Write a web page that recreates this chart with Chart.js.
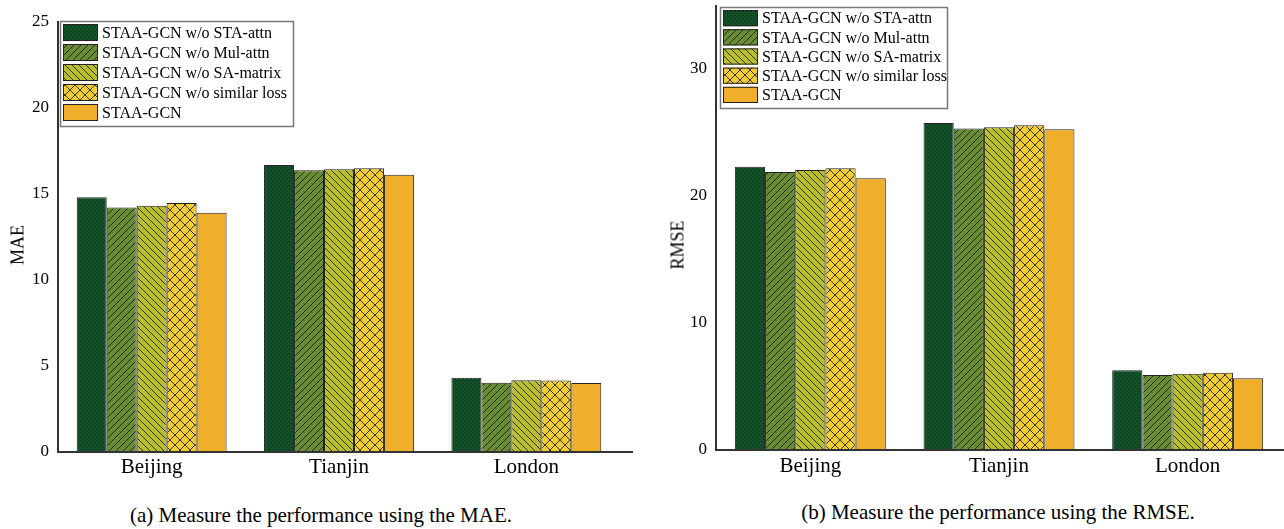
<!DOCTYPE html>
<html>
<head>
<meta charset="utf-8">
<script src="https://cdn.jsdelivr.net/npm/chart.js@4.4.0/dist/chart.umd.min.js"></script>
<style>
  body { margin: 0; background: #fff; width: 1284px; height: 529px; position: relative; overflow: hidden; font-family: "Liberation Serif", "Times New Roman", serif; }
  canvas { position: absolute; top: 0; }
  #maeChart { left: 0; }
  #rmseChart { left: 640px; }
  .ytitle, .caption { position: absolute; transform: translate(-50%, -50%); white-space: nowrap; color: #000; }
  .ytitle { font-size: 18px; transform: translate(-50%, -50%) rotate(-90deg); }
  .caption { font-size: 21px; }
</style>
</head>
<body>
<canvas id="maeChart" width="640" height="490"></canvas>
<canvas id="rmseChart" width="644" height="490"></canvas>
<div class="ytitle" style="left:18px; top:245px;">MAE</div>
<div class="ytitle" style="left:678px; top:245px;">RMSE</div>
<div class="caption" style="left:321px; top:515px;">(a) Measure the performance using the MAE.</div>
<div class="caption" style="left:998px; top:512px;">(b) Measure the performance using the RMSE.</div>
<script>
// data
const categories = ['Beijing', 'Tianjin', 'London'];
const seriesNames = ['STAA-GCN w/o STA-attn', 'STAA-GCN w/o Mul-attn', 'STAA-GCN w/o SA-matrix', 'STAA-GCN w/o similar loss', 'STAA-GCN'];

const maeNoStaAttn = [14.81, 16.69, 4.32];
const maeNoMulAttn = [14.22, 16.38, 4.03];
const maeNoSaMatrix = [14.31, 16.44, 4.17];
const maeNoSimLoss = [14.48, 16.50, 4.16];
const maeFull = [13.91, 16.12, 4.01];

const rmseNoStaAttn = [22.31, 25.75, 6.27];
const rmseNoMulAttn = [21.89, 25.32, 5.90];
const rmseNoSaMatrix = [22.05, 25.41, 6.01];
const rmseNoSimLoss = [22.18, 25.57, 6.09];
const rmseFull = [21.39, 25.26, 5.65];

const maeTicks = [0, 5, 10, 15, 20, 25];
const rmseTicks = [0, 10, 20, 30];
const rmseMax = 35;

const FONT = '"Liberation Serif", "Times New Roman", serif';

// fill patterns for the bars
function makePattern(bg, draw, size) {
    const c = document.createElement('canvas');
    c.width = size; c.height = size;
    const g = c.getContext('2d');
    g.fillStyle = bg;
    g.fillRect(0, 0, size, size);
    g.strokeStyle = 'rgba(20,30,10,0.85)';
    g.fillStyle = 'rgba(5,35,15,0.9)';
    g.lineWidth = 1;
    draw(g, size);
    return g.createPattern(c, 'repeat');
}

function buildFills(ctx) {
    const dots = makePattern('rgb(20,80,42)', (g) => {
        g.fillRect(1, 1, 1, 1);
        g.fillRect(3, 3, 1, 1);
    }, 4);
    const fwd = makePattern('rgb(106,140,50)', (g, s) => {
        g.beginPath();
        g.moveTo(0, s); g.lineTo(s, 0);
        g.moveTo(-1, 1); g.lineTo(1, -1);
        g.moveTo(s - 1, s + 1); g.lineTo(s + 1, s - 1);
        g.stroke();
    }, 7);
    const back = makePattern('rgb(185,190,42)', (g, s) => {
        g.beginPath();
        g.moveTo(0, 0); g.lineTo(s, s);
        g.moveTo(s - 1, -1); g.lineTo(s + 1, 1);
        g.moveTo(-1, s - 1); g.lineTo(1, s + 1);
        g.stroke();
    }, 7);
    const cross = makePattern('rgb(242,204,50)', (g, s) => {
        g.beginPath();
        g.moveTo(0, 0); g.lineTo(s, s);
        g.moveTo(0, s); g.lineTo(s, 0);
        g.stroke();
    }, 10);
    return [dots, fwd, back, cross, 'rgb(240,175,42)'];
}

// boxed legend drawn in the upper left of the plot
const legendBox = {
    id: 'legendBox',
    afterDraw(chart, args, opts) {
        const ctx = chart.ctx;
        const x = opts.x, y = opts.y, w = opts.w, h = opts.h;
        ctx.save();
        ctx.fillStyle = '#fff';
        ctx.fillRect(x, y, w, h);
        ctx.strokeStyle = '#777';
        ctx.lineWidth = 1.5;
        ctx.strokeRect(x + 0.5, y + 0.5, w, h);
        const rowH = (h - 5) / chart.data.datasets.length;
        chart.data.datasets.forEach((ds, i) => {
            const by = y + 3 + i * rowH;
            ctx.fillStyle = ds.backgroundColor;
            ctx.fillRect(x + 3, by, 35, rowH - 3);
            ctx.strokeStyle = '#222';
            ctx.lineWidth = 1;
            ctx.strokeRect(x + 3.5, by + 0.5, 34, rowH - 4);
            ctx.fillStyle = '#000';
            ctx.font = '16px ' + FONT;
            ctx.textBaseline = 'middle';
            ctx.fillText(ds.label, x + 42, by + (rowH - 3) / 2 + 1);
        });
        ctx.restore();
    }
};

// left and bottom axis lines
const axisLines = {
    id: 'axisLines',
    afterDatasetsDraw(chart, args, opts) {
        const { ctx, chartArea } = chart;
        ctx.save();
        ctx.strokeStyle = '#333';
        ctx.lineWidth = 2;
        ctx.beginPath();
        ctx.moveTo(chartArea.left, opts.top);
        ctx.lineTo(chartArea.left, chartArea.bottom);
        ctx.lineTo(chartArea.right + opts.extend, chartArea.bottom);
        ctx.stroke();
        ctx.restore();
    }
};

function makeChart(canvasId, seriesData, tickList, yMax, cfg) {
    const canvas = document.getElementById(canvasId);
    const fills = buildFills(canvas.getContext('2d'));
    return new Chart(canvas, {
        type: 'bar',
        data: {
            labels: categories,
            datasets: seriesData.map((vals, i) => ({
                label: seriesNames[i],
                data: vals,
                backgroundColor: fills[i],
                borderColor: '#222',
                borderWidth: 1,
                borderSkipped: 'bottom',
                barPercentage: 1,
                categoryPercentage: 0.8
            }))
        },
        options: {
            responsive: false,
            animation: false,
            devicePixelRatio: 1,
            layout: { padding: { left: 0, right: cfg.right, top: cfg.top, bottom: 0 } },
            plugins: {
                legend: { display: false },
                tooltip: { enabled: false },
                legendBox: cfg.legend,
                axisLines: { top: cfg.axisTop, extend: cfg.extend }
            },
            scales: {
                x: {
                    grid: { display: false, drawTicks: false },
                    border: { display: false },
                    ticks: { color: '#000', font: { family: FONT, size: 21 }, padding: cfg.xPad },
                    afterFit: (s) => { s.height = cfg.xHeight; s.paddingLeft = 0; s.paddingRight = 0; }
                },
                y: {
                    min: 0,
                    max: yMax,
                    grid: { display: false, drawTicks: false },
                    border: { display: false },
                    ticks: { color: '#000', font: { family: FONT, size: 17 }, padding: 9 },
                    afterBuildTicks: (s) => { s.ticks = tickList.map(v => ({ value: v })); },
                    afterFit: (s) => { s.width = cfg.yWidth; s.paddingTop = 0; s.paddingBottom = 0; }
                }
            }
        },
        plugins: [legendBox, axisLines]
    });
}

makeChart('maeChart',
    [maeNoStaAttn, maeNoMulAttn, maeNoSaMatrix, maeNoSimLoss, maeFull],
    maeTicks, maeTicks[maeTicks.length - 1],
    { right: 20, top: 22, yWidth: 58, xHeight: 38, xPad: 3, axisTop: 21, extend: 13,
      legend: { x: 60, y: 21, w: 233, h: 105 } });

makeChart('rmseChart',
    [rmseNoStaAttn, rmseNoMulAttn, rmseNoSaMatrix, rmseNoSimLoss, rmseFull],
    rmseTicks, rmseMax,
    { right: 2, top: 5.5, yWidth: 76, xHeight: 40, xPad: 4, axisTop: 5, extend: 2,
      legend: { x: 80, y: 7, w: 227, h: 101 } });
</script>
</body>
</html>
